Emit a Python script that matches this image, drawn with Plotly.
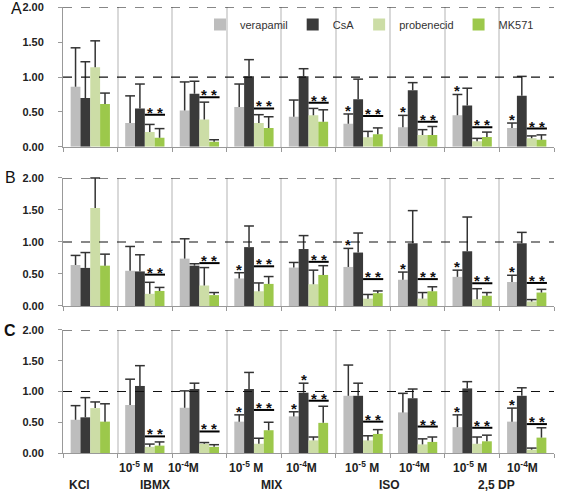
import plotly.graph_objects as go

groups = ["KCl", "IBMX 1e-5", "IBMX 1e-4", "MIX 1e-5", "MIX 1e-4",
          "ISO 1e-5", "ISO 1e-4", "2,5 DP 1e-5", "2,5 DP 1e-4"]
series_names = ["verapamil", "CsA", "probenecid", "MK571"]
series_colors = ["#BDBDBD", "#3A3A3A", "#CCDDA6", "#9CC84B"]

# Panel A: means and error-bar tops
A_ver = [0.86, 0.34, 0.52, 0.57, 0.43, 0.33, 0.28, 0.45, 0.27]
A_ver_top = [1.42, 0.73, 0.93, 0.90, 0.67, 0.47, 0.45, 0.75, 0.34]
A_csa = [0.70, 0.55, 0.76, 1.01, 1.01, 0.68, 0.81, 0.59, 0.73]
A_csa_top = [1.22, 0.90, 0.94, 1.25, 1.12, 0.97, 0.92, 0.84, 1.01]
A_pro = [1.14, 0.21, 0.39, 0.34, 0.45, 0.135, 0.17, 0.08, 0.12]
A_pro_top = [1.52, 0.32, 0.64, 0.46, 0.55, 0.22, 0.245, 0.12, 0.155]
A_mk = [0.615, 0.13, 0.07, 0.27, 0.36, 0.18, 0.17, 0.14, 0.10]
A_mk_top = [0.77, 0.26, 0.10, 0.43, 0.53, 0.27, 0.29, 0.21, 0.17]
A_bracket = [None, 0.46, 0.71, 0.55, 0.63, 0.44, 0.36, 0.28, 0.26]
A_star_ver = [5, 6, 7, 8]
A_star_csa = []

# Panel B
B_ver = [0.64, 0.55, 0.74, 0.43, 0.60, 0.61, 0.41, 0.455, 0.375]
B_ver_top = [0.79, 0.93, 1.05, 0.52, 0.68, 0.90, 0.53, 0.56, 0.48]
B_csa = [0.595, 0.54, 0.63, 0.92, 0.89, 0.835, 0.98, 0.855, 0.98]
B_csa_top = [0.835, 0.80, 0.66, 1.25, 1.10, 1.14, 1.49, 1.39, 1.15]
B_pro = [1.53, 0.19, 0.32, 0.23, 0.34, 0.115, 0.115, 0.105, 0.07]
B_pro_top = [2.0, 0.37, 0.60, 0.36, 0.56, 0.18, 0.21, 0.27, 0.10]
B_mk = [0.63, 0.235, 0.17, 0.345, 0.485, 0.20, 0.23, 0.16, 0.21]
B_mk_top = [0.81, 0.29, 0.21, 0.46, 0.63, 0.235, 0.30, 0.21, 0.26]
B_bracket = [None, 0.49, 0.67, 0.62, 0.69, 0.42, 0.42, 0.355, 0.36]
B_star_ver = [3, 5, 6, 7, 8]
B_star_csa = []

# Panel C
C_ver = [0.54, 0.78, 0.735, 0.51, 0.595, 0.93, 0.66, 0.42, 0.51]
C_ver_top = [0.77, 1.20, 1.01, 0.62, 0.67, 1.43, 0.97, 0.62, 0.73]
C_csa = [0.58, 1.09, 1.04, 1.04, 0.98, 0.93, 0.89, 1.05, 0.93]
C_csa_top = [0.90, 1.42, 1.135, 1.31, 1.135, 1.135, 1.04, 1.16, 1.06]
C_pro = [0.73, 0.10, 0.15, 0.15, 0.205, 0.205, 0.14, 0.15, 0.054]
C_pro_top = [0.83, 0.145, 0.17, 0.24, 0.26, 0.28, 0.23, 0.26, 0.08]
C_mk = [0.51, 0.12, 0.10, 0.37, 0.49, 0.31, 0.18, 0.19, 0.25]
C_mk_top = [0.80, 0.18, 0.135, 0.50, 0.76, 0.38, 0.26, 0.29, 0.41]
C_bracket = [None, 0.27, 0.35, 0.70, 0.85, 0.51, 0.43, 0.41, 0.47]
C_star_ver = [3, 4, 7, 8]
C_star_csa = [4]

conc_labels = ["10<sup>-5</sup> M", "10<sup>-4</sup>M", "10<sup>-5</sup> M", "10<sup>-4</sup>M",
               "10<sup>-5</sup> M", "10<sup>-4</sup>M", "10<sup>-5</sup> M", "10<sup>-4</sup>M"]
group_labels = ["KCl", "IBMX", "MIX", "ISO", "2,5 DP"]
y_ticks = [0, 0.5, 1.0, 1.5, 2.0]
y_ticktext = ["0.00", "0.50", "1.00", "1.50", "2.00"]

panels = [
    dict(letter="A", bold=False, vals=[A_ver, A_csa, A_pro, A_mk],
         tops=[A_ver_top, A_csa_top, A_pro_top, A_mk_top], bracket=A_bracket,
         sv=A_star_ver, sc=A_star_csa, dom=[0.703, 0.985], lx=16, ly=8),
    dict(letter="B", bold=False, vals=[B_ver, B_csa, B_pro, B_mk],
         tops=[B_ver_top, B_csa_top, B_pro_top, B_mk_top], bracket=B_bracket,
         sv=B_star_ver, sc=B_star_csa, dom=[0.3806, 0.6397], lx=10, ly=178),
    dict(letter="C", bold=True, vals=[C_ver, C_csa, C_pro, C_mk],
         tops=[C_ver_top, C_csa_top, C_pro_top, C_mk_top], bracket=C_bracket,
         sv=C_star_ver, sc=C_star_csa, dom=[0.083, 0.332], lx=10, ly=330),
]

FONT = "Arial, Liberation Sans, sans-serif"
W, H = 563, 494
ML, MR = 63, 9
PW = W - ML - MR

fig = go.Figure()
xi = list(range(len(groups)))
offsets = [-0.27, -0.09, 0.09, 0.27]
annotations = []
shapes = []

for pi, p in enumerate(panels):
    sfx = "" if pi == 0 else str(pi + 1)
    for si in range(4):
        v = p["vals"][si]
        t = p["tops"][si]
        fig.add_trace(go.Bar(
            x=xi, y=v, name=series_names[si],
            marker=dict(color=series_colors[si], line=dict(width=0)),
            error_y=dict(type="data", symmetric=False,
                         array=[tt - vv for tt, vv in zip(t, v)],
                         arrayminus=[0] * len(v),
                         color="#333333", thickness=1.5, width=0),
            xaxis="x" + sfx, yaxis="y" + sfx,
            legendgroup=series_names[si], showlegend=(pi == 0),
        ))
    # caps on the error bars (upper end only)
    for si in range(4):
        fig.add_trace(go.Scatter(
            x=[g + offsets[si] for g in xi], y=p["tops"][si], mode="markers",
            marker=dict(symbol="line-ew", size=7, line=dict(color="#333333", width=1.5)),
            xaxis="x" + sfx, yaxis="y" + sfx, showlegend=False, hoverinfo="skip",
            cliponaxis=False,
        ))
    # dashed reference lines
    for yy in (1.0, 2.0):
        shapes.append(dict(type="line", xref="x" + sfx + " domain", x0=0, x1=1,
                           yref="y" + sfx, y0=yy, y1=yy,
                           line=dict(color="#111111", width=1.2, dash="dash")))
    # brackets with double stars
    for g, by in enumerate(p["bracket"]):
        if by is None:
            continue
        shapes.append(dict(type="line", xref="x" + sfx, yref="y" + sfx,
                           x0=g + 0.0, x1=g + 0.37, y0=by, y1=by,
                           line=dict(color="#000000", width=2)))
        annotations.append(dict(xref="x" + sfx, yref="y" + sfx, x=g + 0.185, y=by,
                                text="<b>* *</b>", showarrow=False, yanchor="bottom",
                                yshift=-8, font=dict(family=FONT, size=15, color="#111111")))
    # single stars
    for si, lst in ((0, p["sv"]), (1, p["sc"])):
        for g in lst:
            annotations.append(dict(xref="x" + sfx, yref="y" + sfx, x=g + offsets[si],
                                    y=p["tops"][si][g], text="<b>*</b>", showarrow=False,
                                    yanchor="bottom", yshift=-7,
                                    font=dict(family=FONT, size=15, color="#111111")))
    # panel letter
    annotations.append(dict(xref="paper", yref="paper",
                            x=(p["lx"] - ML) / PW, y=1 - p["ly"] / H,
                            text=("<b>%s</b>" % p["letter"]) if p["bold"] else p["letter"],
                            showarrow=False, xanchor="center", yanchor="middle",
                            font=dict(family=FONT, size=16, color="#111111")))

    fig.update_layout(**{
        "xaxis" + sfx: dict(domain=[0, 1], range=[-0.5, 8.5], anchor="y" + sfx,
                            tickvals=[i + 0.5 for i in range(-1, 9)], showticklabels=False,
                            ticks="outside", ticklen=4, tickcolor="#999999",
                            showgrid=True, gridcolor="#D9D9D9", gridwidth=1.5,
                            showline=True, linecolor="#999999", linewidth=1,
                            zeroline=False, fixedrange=True, automargin=False),
        "yaxis" + sfx: dict(domain=p["dom"], range=[0, 2.0], anchor="x" + sfx,
                            tickvals=y_ticks, ticktext=y_ticktext,
                            ticks="outside", ticklen=4, tickcolor="#999999",
                            ticklabelstandoff=12, automargin=False,
                            tickfont=dict(family=FONT, size=11, color="#222222", weight="bold"),
                            showgrid=False, showline=True, linecolor="#999999", linewidth=1,
                            zeroline=False, fixedrange=True),
    })

# bottom labels
conc_x = [0.84, 1.70, 2.85, 3.88, 4.98, 5.95, 6.96, 7.93]
for cx, lab in zip(conc_x, conc_labels):
    annotations.append(dict(xref="x3", yref="paper", x=cx, y=1 - 467 / H, text="<b>%s</b>" % lab,
                            showarrow=False, xanchor="center", yanchor="middle",
                            font=dict(family=FONT, size=12, color="#222222")))
grp_x = [-0.19, 1.19, 3.33, 5.49, 7.45]
for gx, lab in zip(grp_x, group_labels):
    annotations.append(dict(xref="x3", yref="paper", x=gx, y=1 - 485 / H, text="<b>%s</b>" % lab,
                            showarrow=False, xanchor="center", yanchor="middle",
                            font=dict(family=FONT, size=12, color="#222222")))

fig.update_layout(
    width=W, height=H,
    margin=dict(l=ML, r=MR, t=0, b=0, autoexpand=False),
    paper_bgcolor="white", plot_bgcolor="white",
    barmode="group", bargap=0.28, bargroupgap=0,
    showlegend=True,
    legend=dict(orientation="h", x=(200 - ML) / PW, y=1 - 10 / H, xanchor="left", yanchor="top",
                bgcolor="rgba(0,0,0,0)", borderwidth=0,
                font=dict(family=FONT, size=11, color="#333333"),
                itemclick=False, itemdoubleclick=False),
    annotations=annotations, shapes=shapes,
    font=dict(family=FONT),
)

fig.write_html("out.html", config={"displayModeBar": False},
               post_script="document.body.style.margin='0';document.body.style.overflow='hidden';")
